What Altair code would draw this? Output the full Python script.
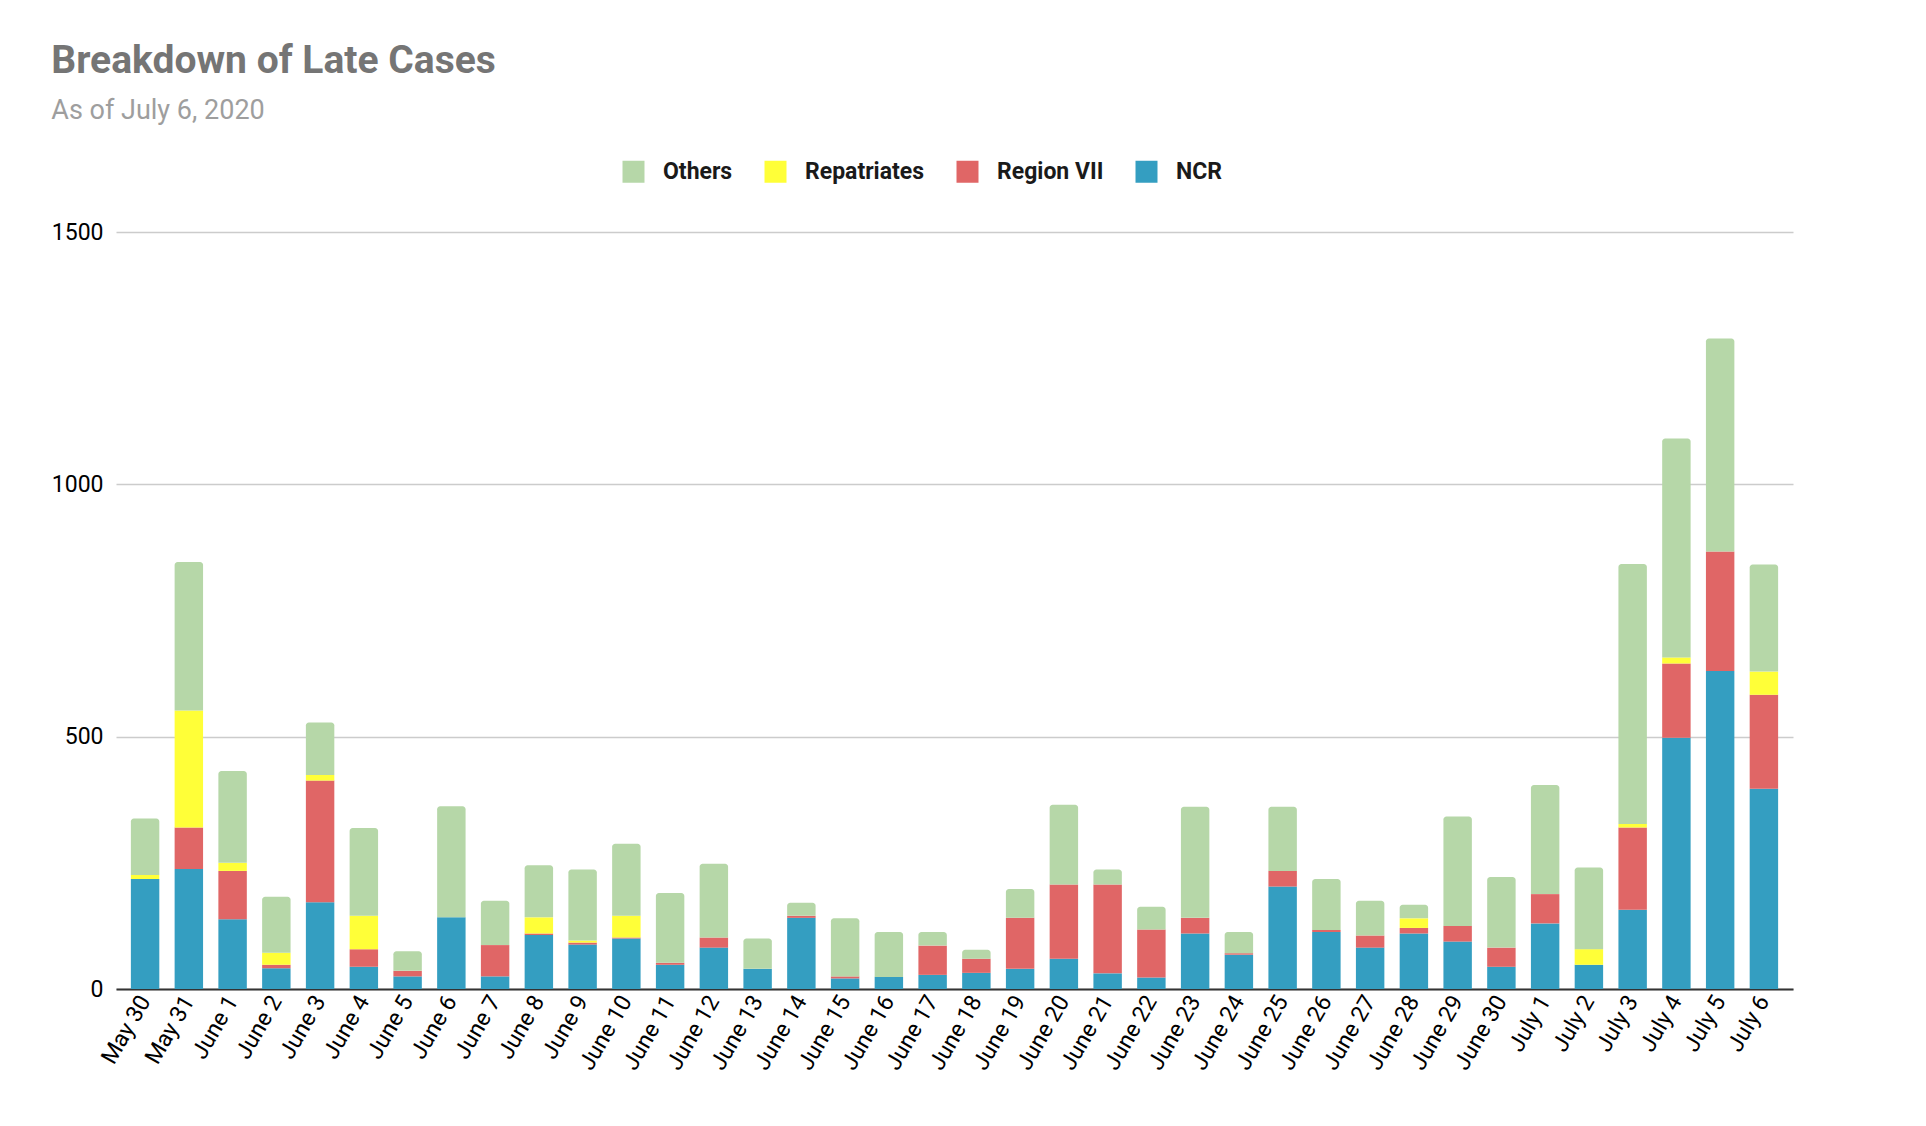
import altair as alt
import pandas as pd

dates = ["May 30", "May 31"] + [f"June {i}" for i in range(1, 31)] + [f"July {i}" for i in range(1, 7)]

ncr = [218, 238, 138, 41, 172, 44, 25, 142, 25, 107, 88, 100, 48, 82, 40, 141, 21, 24, 28, 32,
       40, 60, 31, 23, 110, 68, 203, 113, 82, 110, 94, 44, 130, 48, 157, 498, 630, 397]
region7 = [0, 82, 96, 7, 241, 35, 11, 0, 62, 3, 4, 2, 4, 20, 0, 4, 4, 0, 58, 28,
           101, 147, 176, 95, 31, 3, 31, 4, 24, 11, 31, 38, 58, 0, 163, 147, 237, 186]
repatriates = [8, 232, 16, 24, 11, 66, 0, 0, 0, 32, 4, 43, 0, 0, 0, 0, 0, 0, 0, 0,
               0, 0, 0, 0, 0, 0, 0, 0, 0, 19, 0, 0, 0, 31, 7, 12, 0, 46]
others = [112, 294, 182, 111, 104, 174, 39, 220, 88, 103, 141, 143, 138, 146, 60, 26, 115, 89, 27, 18,
          57, 158, 30, 45, 220, 42, 127, 101, 69, 27, 217, 140, 216, 162, 515, 434, 422, 212]

series_names = ["Others", "Repatriates", "Region VII", "NCR"]
series_colors = ["#b6d7a8", "#ffff38", "#e06666", "#349ec1"]

rows = []
for i, d in enumerate(dates):
    for name, vals, k in [("NCR", ncr, 0), ("Region VII", region7, 1), ("Repatriates", repatriates, 2)]:
        rows.append({"date": d, "series": name, "value": vals[i], "order": k})
long_df = pd.DataFrame(rows)
wide_df = pd.DataFrame({"date": dates, "NCR": ncr, "R7": region7, "Rep": repatriates, "Others": others})

FONT = "Roboto"

x_enc = alt.X(
    "date:N", sort=dates, title=None,
    scale=alt.Scale(paddingInner=0.35, paddingOuter=0.34),
    axis=alt.Axis(labelAngle=-60, labelFontSize=23, labelColor="#000000", labelFont=FONT,
                  domainColor="#333333", domainWidth=2, ticks=False, labelPadding=8),
)
y_scale = alt.Scale(domain=[0, 1500])
y_axis = alt.Axis(values=[0, 500, 1000, 1500], format="d", title=None, domain=False, ticks=False,
                  gridColor="#cccccc", gridWidth=1.5, labelFontSize=23, labelPadding=13,
                  labelColor="#000000", labelFont=FONT)

stacked = alt.Chart(long_df).mark_bar().encode(
    x=x_enc,
    y=alt.Y("value:Q", stack="zero", scale=y_scale, axis=y_axis),
    color=alt.Color(
        "series:N",
        scale=alt.Scale(domain=series_names, range=series_colors),
        legend=alt.Legend(
            title=None, orient="none", direction="horizontal", legendX=506, legendY=-72,
            symbolType="square", symbolSize=484, symbolStrokeWidth=0, symbolOpacity=1,
            labelFontSize=23, labelFontWeight="bold", labelColor="#1a1a1a", labelFont=FONT,
            labelOffset=18, columnPadding=31,
        ),
    ),
    order=alt.Order("order:Q"),
)

top = alt.Chart(wide_df).transform_calculate(
    base="datum.NCR + datum.R7 + datum.Rep"
).transform_calculate(
    total="datum.base + datum.Others"
).mark_bar(color="#b6d7a8", cornerRadiusTopLeft=3, cornerRadiusTopRight=3).encode(
    x=x_enc,
    y=alt.Y("total:Q", scale=y_scale, axis=y_axis),
    y2="base:Q",
)

chart = alt.layer(stacked, top).properties(
    width=1677,
    height=757,
    padding={"left": 43, "top": 34, "right": 5, "bottom": 5},
    title=alt.TitleParams(
        "Breakdown of Late Cases", subtitle="As of July 6, 2020",
        anchor="start", frame="bounds", font=FONT, fontSize=39, fontWeight="bold",
        color="#757575", subtitleFont=FONT, subtitleFontSize=27, subtitleColor="#9e9e9e",
        subtitlePadding=17, offset=36,
    ),
).configure(font=FONT).configure_view(strokeWidth=0, stroke="transparent")

chart.save("out.html", embed_options={"renderer": "svg", "actions": False})
